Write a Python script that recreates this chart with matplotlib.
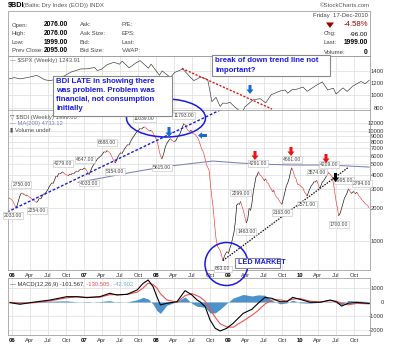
import matplotlib
matplotlib.use("Agg")
import matplotlib.pyplot as plt
import matplotlib.dates as mdates
from matplotlib.collections import LineCollection
from matplotlib.patches import Ellipse, Rectangle, Polygon
import numpy as np
import pandas as pd

# ---------------- data ----------------
bdi_dates = [
    "2005-12-09", "2005-12-16", "2005-12-23", "2005-12-30", "2006-01-06", "2006-01-13", "2006-01-20",
    "2006-01-27", "2006-02-03", "2006-02-10", "2006-02-17", "2006-02-24", "2006-03-03", "2006-03-10",
    "2006-03-17", "2006-03-24", "2006-04-07", "2006-04-14", "2006-04-21", "2006-04-28", "2006-05-05",
    "2006-05-12", "2006-05-19", "2006-05-26", "2006-06-02", "2006-06-09", "2006-06-16", "2006-06-23",
    "2006-06-30", "2006-07-07", "2006-07-14", "2006-07-21", "2006-07-28", "2006-08-04", "2006-08-11",
    "2006-08-18", "2006-08-25", "2006-09-01", "2006-09-08", "2006-09-15", "2006-09-22", "2006-09-29",
    "2006-10-06", "2006-10-13", "2006-10-20", "2006-10-27", "2006-11-03", "2006-11-10", "2006-11-17",
    "2006-11-24", "2006-12-01", "2006-12-08", "2006-12-15", "2006-12-22", "2007-01-05", "2007-01-12",
    "2007-01-19", "2007-01-26", "2007-02-02", "2007-02-09", "2007-02-16", "2007-02-23", "2007-03-02",
    "2007-03-09", "2007-03-16", "2007-03-23", "2007-03-30", "2007-04-06", "2007-04-13", "2007-04-20",
    "2007-04-27", "2007-05-04", "2007-05-11", "2007-05-18", "2007-05-25", "2007-06-01", "2007-06-08",
    "2007-06-15", "2007-06-22", "2007-06-29", "2007-07-06", "2007-07-13", "2007-07-20", "2007-07-27",
    "2007-08-03", "2007-08-10", "2007-08-17", "2007-08-24", "2007-08-31", "2007-09-07", "2007-09-14",
    "2007-09-21", "2007-09-28", "2007-10-05", "2007-10-12", "2007-10-19", "2007-10-26", "2007-11-02",
    "2007-11-09", "2007-11-16", "2007-11-23", "2007-11-30", "2007-12-07", "2007-12-14", "2007-12-21",
    "2008-01-04", "2008-01-11", "2008-01-18", "2008-01-25", "2008-01-30", "2008-02-08", "2008-02-15",
    "2008-02-22", "2008-02-29", "2008-03-07", "2008-03-14", "2008-03-21", "2008-03-28", "2008-04-04",
    "2008-04-11", "2008-04-18", "2008-04-25", "2008-05-02", "2008-05-09", "2008-05-16", "2008-05-20",
    "2008-05-30", "2008-06-06", "2008-06-13", "2008-06-20", "2008-06-27", "2008-07-04", "2008-07-11",
    "2008-07-18", "2008-07-25", "2008-08-01", "2008-08-08", "2008-08-15", "2008-08-22", "2008-08-29",
    "2008-09-05", "2008-09-12", "2008-09-19", "2008-09-26", "2008-10-03", "2008-10-10", "2008-10-17",
    "2008-10-24", "2008-10-31", "2008-11-07", "2008-11-14", "2008-11-21", "2008-11-28", "2008-12-05",
    "2008-12-12", "2008-12-19", "2008-12-26", "2009-01-02", "2009-01-09", "2009-01-16", "2009-01-23",
    "2009-01-30", "2009-02-06", "2009-02-13", "2009-02-20", "2009-02-27", "2009-03-04", "2009-03-11",
    "2009-03-18", "2009-03-25", "2009-04-03", "2009-04-10", "2009-04-17", "2009-04-24", "2009-05-01",
    "2009-05-08", "2009-05-15", "2009-05-22", "2009-05-29", "2009-06-03", "2009-06-12", "2009-06-19",
    "2009-06-26", "2009-07-03", "2009-07-10", "2009-07-17", "2009-07-24", "2009-07-31", "2009-08-07",
    "2009-08-14", "2009-08-21", "2009-08-28", "2009-09-04", "2009-09-11", "2009-09-18", "2009-09-30",
    "2009-10-09", "2009-10-16", "2009-10-23", "2009-10-30", "2009-11-06", "2009-11-13", "2009-11-19",
    "2009-11-27", "2009-12-04", "2009-12-11", "2009-12-18", "2009-12-31", "2010-01-08", "2010-01-15",
    "2010-01-22", "2010-01-29", "2010-02-05", "2010-02-12", "2010-02-19", "2010-02-26", "2010-03-05",
    "2010-03-12", "2010-03-19", "2010-03-26", "2010-04-02", "2010-04-09", "2010-04-16", "2010-04-23",
    "2010-04-30", "2010-05-07", "2010-05-14", "2010-05-20", "2010-05-26", "2010-06-04", "2010-06-11",
    "2010-06-18", "2010-06-25", "2010-07-02", "2010-07-09", "2010-07-15", "2010-07-23", "2010-07-30",
    "2010-08-06", "2010-08-13", "2010-08-20", "2010-08-27", "2010-09-03", "2010-09-10", "2010-09-17",
    "2010-09-24", "2010-10-01", "2010-10-08", "2010-10-15", "2010-10-22", "2010-10-29", "2010-11-05",
    "2010-11-12", "2010-11-19", "2010-11-26", "2010-12-03", "2010-12-10", "2010-12-17"]
bdi_close = [
    2420, 2480, 2440, 2380, 2290, 2150, 2033,
    2120, 2370, 2600, 2750, 2680, 2690, 2600,
    2630, 2560, 2470, 2400, 2350, 2300, 2254,
    2330, 2454, 2420, 2550, 2700, 2650, 2820,
    2920, 3100, 3250, 3400, 3350, 3600, 3900,
    3850, 4150, 4100, 4200, 4279, 4150, 4050,
    4000, 3950, 4080, 4030, 4170, 4120, 4250,
    4350, 4300, 4420, 4540, 4480, 4647, 4450,
    4250, 4033, 4300, 4650, 4900, 5120, 5350,
    5600, 5750, 5890, 6050, 6300, 6530, 6450,
    6688, 6550, 6430, 6100, 5700, 5400, 5154,
    5500, 5900, 6190, 6400, 6300, 6700, 7030,
    7300, 7600, 7500, 8060, 8500, 8900, 9280,
    9700, 10000, 10300, 10670, 10500, 10800, 11039,
    10800, 10500, 10300, 10100, 10200, 9940, 9300,
    8400, 7520, 6500, 5900, 5615, 6200, 7030,
    7600, 8000, 8350, 8600, 8300, 8100, 8060,
    8300, 8800, 9200, 9600, 10400, 11200, 11793,
    11400, 10500, 10200, 10000, 10300, 9600, 9500,
    9400, 9000, 8670, 8000, 7270, 6800, 6400,
    5690, 5000, 4700, 4440, 3240, 2500, 1990,
    1400, 1058, 900, 858, 820, 745, 663,
    720, 770, 800, 770, 858, 930, 1058,
    1200, 1500, 2130, 2200, 2150, 2299, 2100,
    1920, 1700, 1463, 1600, 1990, 1900, 2200,
    2817, 3300, 3860, 4000, 4291, 4000, 3900,
    3730, 3550, 3700, 3400, 3360, 3100, 3000,
    2817, 2900, 2600, 2500, 2450, 2300, 2163,
    2500, 2817, 3200, 3400, 3730, 4300, 4661,
    4300, 3860, 3700, 3300, 3240, 3100, 3050,
    2817, 2700, 2571, 2800, 3000, 3200, 3300,
    3480, 3450, 3574, 3300, 3030, 3200, 3450,
    3550, 3730, 3900, 4100, 4209, 4000, 3860,
    3400, 2817, 2300, 1990, 1700, 1800, 1990,
    2200, 2450, 2600, 2750, 2995, 2850, 2720,
    2800, 2817, 2700, 2794, 2650, 2540, 2450,
    2350, 2285, 2200, 2150, 2100, 1999]

# swing highs (+1) and lows (-1) that carry value tags, with a sideways nudge in points
swing_dates = ["2006-01-20", "2006-02-17", "2006-05-05", "2006-09-15", "2007-01-05", "2007-01-26",
               "2007-04-27", "2007-06-08", "2007-11-02", "2008-01-30", "2008-05-20", "2008-12-05",
               "2009-03-04", "2009-04-03", "2009-06-03", "2009-09-30", "2009-11-19", "2010-02-05",
               "2010-03-26", "2010-05-26", "2010-07-15", "2010-09-03", "2010-10-15"]
swing_kind = [-1, 1, -1, 1, 1, -1,
              1, -1, 1, -1, 1, -1,
              1, -1, 1, -1, 1, -1,
              1, 1, -1, 1, 1]
swing_dx = [-2, 0, 0, 0, 0, 0,
            0, 0, 0, 0, 0, 0,
            0, 0, 0, 0, 0, 0,
            0, 0, 0, -3, 4]

ma_dates = ["2006-12-01", "2007-03-20", "2007-09-15", "2008-02-10", "2008-08-01", "2008-10-15",
            "2009-03-01", "2009-08-01", "2009-11-20", "2010-06-01", "2010-12-17"]
ma200 = [3430, 3730, 4290, 4760, 5180, 5370, 5150, 5010, 4940, 4940, 4733]

spx_dates = ["2005-12-16", "2006-01-13", "2006-02-10", "2006-03-10", "2006-04-21", "2006-05-05",
             "2006-06-16", "2006-07-14", "2006-08-11", "2006-09-22", "2006-10-27", "2006-12-15",
             "2007-01-19", "2007-02-23", "2007-03-09", "2007-03-30", "2007-04-27", "2007-06-01",
             "2007-06-29", "2007-07-13", "2007-08-17", "2007-09-21", "2007-10-12", "2007-11-23",
             "2007-12-07", "2008-01-18", "2008-02-01", "2008-03-14", "2008-04-04", "2008-05-16",
             "2008-06-27", "2008-07-11", "2008-08-15", "2008-09-19", "2008-10-10", "2008-10-31",
             "2008-11-21", "2008-12-05", "2008-12-26", "2009-01-09", "2009-01-30", "2009-02-20",
             "2009-03-06", "2009-03-27", "2009-05-08", "2009-06-12", "2009-07-10", "2009-08-07",
             "2009-09-18", "2009-10-16", "2009-10-30", "2009-11-20", "2009-12-18", "2010-01-15",
             "2010-02-05", "2010-03-26", "2010-04-23", "2010-05-21", "2010-06-18", "2010-07-02",
             "2010-08-06", "2010-08-27", "2010-09-24", "2010-11-05", "2010-11-26", "2010-12-17"]
spx_close = [1267, 1287, 1267, 1282, 1311, 1325,
             1252, 1237, 1266, 1314, 1377, 1427,
             1430, 1451, 1402, 1421, 1494, 1536,
             1503, 1552, 1445, 1525, 1561, 1440,
             1504, 1325, 1395, 1288, 1370, 1425,
             1278, 1239, 1298, 1255, 899, 968,
             820, 876, 872, 890, 826, 770,
             683, 816, 930, 946, 879, 1010,
             1068, 1087, 1036, 1091, 1102, 1136,
             1066, 1167, 1217, 1087, 1117, 1022,
             1121, 1064, 1148, 1225, 1189, 1244]

macd_dates = ["2005-12-21", "2006-02-10", "2006-04-16", "2006-07-12", "2006-10-05", "2006-11-25",
              "2007-01-15", "2007-03-22", "2007-05-11", "2007-06-17", "2007-08-07", "2007-09-27",
              "2007-10-27", "2007-11-22", "2007-12-17", "2008-01-05", "2008-01-23", "2008-02-24",
              "2008-04-16", "2008-05-27", "2008-07-01", "2008-07-27", "2008-08-11", "2008-09-06",
              "2008-10-01", "2008-10-27", "2008-11-21", "2008-12-24", "2009-01-26", "2009-03-18",
              "2009-05-01", "2009-06-02", "2009-07-06", "2009-08-11", "2009-09-20", "2009-10-26",
              "2009-11-24", "2009-12-31", "2010-02-20", "2010-04-12", "2010-06-02", "2010-07-05",
              "2010-07-30", "2010-09-01", "2010-10-16", "2010-12-17"]
macd_line = [-50, -160, -20, 140, 380, 380,
             310, 380, 620, 500, 550, 860,
             1330, 1570, 1090, 380, -210, -90,
             20, 810, 500, 140, 20, -330,
             -1290, -1880, -2070, -1880, -1520, -810,
             -520, -90, 330, 260, 20, 20,
             330, 190, -20, -20, 140, 0,
             -290, -90, -30, -102]
signal_line = [-20, -80, -60, 80, 300, 370,
               340, 350, 520, 530, 540, 700,
               1000, 1350, 1250, 1000, 600, 150,
               -20, 450, 600, 450, 350, 50,
               -500, -1100, -1550, -1780, -1800, -1350,
               -950, -600, -150, 150, 150, 80,
               200, 250, 60, 0, 100, 60,
               -100, -200, -100, -131]

month_ticks = ["2006-01-01", "2006-04-01", "2006-07-01", "2006-10-01",
               "2007-01-01", "2007-04-01", "2007-07-01", "2007-10-01",
               "2008-01-01", "2008-04-01", "2008-07-01", "2008-10-01",
               "2009-01-01", "2009-04-01", "2009-07-01", "2009-10-01",
               "2010-01-01", "2010-04-01", "2010-07-01", "2010-10-01"]
month_labels = ["06", "Apr", "Jul", "Oct", "07", "Apr", "Jul", "Oct", "08", "Apr", "Jul", "Oct",
                "09", "Apr", "Jul", "Oct", "10", "Apr", "Jul", "Oct"]

bdi_ticks = [1000, 2000, 3000, 4000, 5000, 6000, 7000, 8000, 9000, 10000, 12000]
spx_ticks = [800, 1000, 1200, 1400]
macd_ticks = [-2000, -1000, 0, 1000]

# ---------------- layout helpers ----------------
W, H = 400, 345
fig = plt.figure(figsize=(W / 100, H / 100), dpi=100)
plt.rcParams["font.family"] = ["Liberation Sans", "DejaVu Sans"]

def rect(l, t, r, b):
    return [l / W, 1 - b / H, (r - l) / W, (b - t) / H]

def fx(x):
    return x / W

def fy(y):
    return 1 - y / H

def ftext(x, y, s, **kw):
    kw.setdefault("va", "center")
    return fig.text(fx(x), fy(y), s, **kw)

d = lambda s: mdates.date2num(pd.Timestamp(s))
xlim = (d("2005-12-11"), d("2010-12-21"))
GRID = "#dcdcdc"
EDGE = "#a0a0a0"
BLUE = "#1a1ae0"

def style_panel(a):
    a.set_xlim(*xlim)
    a.set_xticks([d(t) for t in month_ticks])
    a.grid(True, color=GRID, lw=0.5)
    a.set_axisbelow(True)
    for s in a.spines.values():
        s.set_color(EDGE)
        s.set_linewidth(0.6)
    a.yaxis.tick_right()
    a.tick_params(axis="both", length=0, labelsize=4.2, colors="#333333")
    a.tick_params(axis="y", pad=10)

def set_right_ticks(a, ticks, labels):
    a.set_yticks(ticks)
    a.set_yticklabels(labels)
    a.yaxis.set_minor_locator(matplotlib.ticker.NullLocator())
    for lab in a.get_yticklabels():
        lab.set_ha("right")

def set_date_labels(a, show):
    if show:
        a.set_xticklabels(month_labels)
        for lab, txt in zip(a.get_xticklabels(), month_labels):
            if txt.isdigit():
                lab.set_fontweight("bold")
                lab.set_color("#000000")
        a.tick_params(axis="x", pad=2.5)
    else:
        a.set_xticklabels([])

# ---------------- header ----------------
ftext(8, 5, "$BDI", fontsize=5.2, fontweight="bold")
ftext(23, 5, "(Baltic Dry Index (EOD)) INDX", fontsize=4.3, color="#555555")
ftext(370, 5.5, "©StockCharts.com", fontsize=4.3, color="#555555", ha="right")
fig.add_artist(Rectangle((fx(8), fy(56)), (370 - 8) / W, (56 - 11) / H, transform=fig.transFigure,
                         fill=False, ec=EDGE, lw=0.6))
rows_y = [25, 33.5, 42, 50.5]
for y, lab, val in zip(rows_y, ["Open:", "High:", "Low:", "Prev Close:"],
                       ["2076.00", "2076.00", "1999.00", "2095.00"]):
    ftext(12, y, lab, fontsize=4.3, color="#444444")
    ftext(44, y, val, fontsize=4.8, fontweight="bold")
for y, lab in zip(rows_y, ["Ask:", "Ask Size:", "Bid:", "Bid Size:"]):
    ftext(80, y, lab, fontsize=4.3, color="#444444")
for y, lab in zip(rows_y, ["P/E:", "EPS:", "Last:", "VWAP:"]):
    ftext(122, y, lab, fontsize=4.3, color="#444444")
ftext(368, 15.5, "Friday  17-Dec-2010", fontsize=4.3, color="#444444", ha="right")
fig.add_artist(Polygon([(fx(326), fy(22.5)), (fx(334), fy(22.5)), (fx(330), fy(28))],
                       closed=True, transform=fig.transFigure, fc="#a00000", ec="none"))
ftext(368, 25, "-4.58%", fontsize=5.6, color="#a00000", ha="right")
ftext(324, 34, "Chg:", fontsize=4.3, color="#444444")
ftext(368, 34, "-96.00", fontsize=4.6, ha="right")
ftext(323, 43, "Last:", fontsize=4.3, color="#444444")
ftext(368, 43, "1999.00", fontsize=4.8, fontweight="bold", ha="right")
ftext(324, 52, "Volume:", fontsize=4.3, color="#444444")
ftext(368, 52, "0", fontsize=4.8, fontweight="bold", ha="right")

# ---------------- SPX panel ----------------
ax_spx = fig.add_axes(rect(8, 56, 370, 110))
style_panel(ax_spx)
ax_spx.plot([d(t) for t in spx_dates], spx_close, color="#333333", lw=0.45)
ax_spx.set_ylim(764, 1636)
set_right_ticks(ax_spx, spx_ticks, [str(v) for v in spx_ticks])
set_date_labels(ax_spx, False)
ax_spx.text(0.006, 0.92, "— $SPX (Weekly) 1243.91", transform=ax_spx.transAxes, fontsize=4.2,
            color="#555555", va="center")
# broken down trend line on the SPX
ax_spx.plot([d("2008-05-11"), d("2009-08-11")], [1436, 780], color="#ee1111", lw=1.0,
            ls=(0, (1.5, 1.2)))

# ---------------- BDI panel ----------------
ax = fig.add_axes(rect(8, 110, 370, 270))
style_panel(ax)
ax.set_yscale("log")
ax.set_ylim(544, 15700)
set_right_ticks(ax, bdi_ticks, [str(v) for v in bdi_ticks])
set_date_labels(ax, True)

bx = np.array([d(t) for t in bdi_dates])
by = np.array(bdi_close, dtype=float)
segs = np.stack([np.column_stack([bx[:-1], by[:-1]]), np.column_stack([bx[1:], by[1:]])], axis=1)
cols = ["#000000" if b >= a else "#ee3333" for a, b in zip(by[:-1], by[1:])]
ax.add_collection(LineCollection(segs, colors=cols, linewidths=0.45))

ax.plot([d(t) for t in ma_dates], ma200, color="#7b80b8", lw=0.75)

lookup = dict(zip(bdi_dates, bdi_close))
for t, k, dx in zip(swing_dates, swing_kind, swing_dx):
    v = lookup[t]
    ax.annotate(f"{v:.2f}", (d(t), v), xytext=(dx, 4.2 * k), textcoords="offset points",
                ha="center", va="bottom" if k > 0 else "top", fontsize=3.6, color="#444444",
                bbox=dict(boxstyle="square,pad=0.18", fc="white", ec="#c0c0c0", lw=0.4))

ax.text(0.006, 0.955, "▽ $BDI (Weekly) 1999.00", transform=ax.transAxes, fontsize=4.2,
        color="#555555", va="center")
ax.text(0.006, 0.915, "— MA(200) 4733.12", transform=ax.transAxes, fontsize=4.2,
        color="#7b80b8", va="center")
ax.text(0.006, 0.877, "▮ Volume undef", transform=ax.transAxes, fontsize=4.2,
        color="#555555", va="center")

# trend lines
ax.plot([d("2005-12-07"), d("2008-12-01")], [1840, 16000], color=BLUE, lw=1.0,
        ls=(0, (2, 1.3)))
ax.plot([d("2008-12-05"), d("2010-08-31")], [663, 4670], color="#111111", lw=0.9,
        ls=(0, (1.2, 1.0)))

# ---------------- MACD panel ----------------
ax_m = fig.add_axes(rect(8, 278, 370, 335))
style_panel(ax_m)
mx = np.array([d(t) for t in macd_dates])
m = np.array(macd_line, dtype=float)
s = np.array(signal_line, dtype=float)
ax_m.fill_between(mx, 0, m - s, color="#2f7fc1", alpha=0.85, lw=0)
ax_m.plot(mx, s, color="#f05050", lw=0.8)
ax_m.plot(mx, m, color="#000000", lw=0.8)
ax_m.set_ylim(-2357, 1714)
set_right_ticks(ax_m, macd_ticks, [str(v) for v in macd_ticks])
set_date_labels(ax_m, True)
t1 = ax_m.text(0.006, 0.89, "— MACD(12,26,9) -101.567", transform=ax_m.transAxes, fontsize=4.2,
               color="#333333", va="center")
t2 = ax_m.annotate(", -130.505", xy=(1, 0.5), xycoords=t1, fontsize=4.2, color="#f05050",
                   va="center", ha="left")
ax_m.annotate(", -42.902", xy=(1, 0.5), xycoords=t2, fontsize=4.2, color="#6fa8dc",
              va="center", ha="left")

# ---------------- markup drawn over the panels ----------------
def add_poly(pts, color, z=20):
    fig.add_artist(Polygon([(fx(x), fy(y)) for x, y in pts], closed=True,
                           transform=fig.transFigure, fc=color, ec="none", zorder=z))

def down_arrow(cx, top, bottom, color, sw=3.0, hw=7.0, hl=4.5):
    add_poly([(cx - sw / 2, top), (cx + sw / 2, top), (cx + sw / 2, bottom - hl),
              (cx + hw / 2, bottom - hl), (cx, bottom), (cx - hw / 2, bottom - hl),
              (cx - sw / 2, bottom - hl)], color)

def left_arrow(tip, tail, cy, color, sw=3.0, hw=6.5, hl=4.0):
    add_poly([(tail, cy - sw / 2), (tail, cy + sw / 2), (tip + hl, cy + sw / 2),
              (tip + hl, cy + hw / 2), (tip, cy), (tip + hl, cy - hw / 2),
              (tip + hl, cy - sw / 2)], color)

def fig_ellipse(cx, cy, w, h, color, lw=1.1):
    fig.add_artist(Ellipse((fx(cx), fy(cy)), w / W, h / H, transform=fig.transFigure,
                           fill=False, ec=color, lw=lw, zorder=15))

def note_box(l, t, r, b, lines, line_y, size=5.6):
    fig.add_artist(Rectangle((fx(l), fy(b)), (r - l) / W, (b - t) / H, transform=fig.transFigure,
                             fc="white", ec="#888888", lw=0.8, zorder=25))
    for txt, y in zip(lines, line_y):
        fig.text(fx(l + 3), fy(y), txt, fontsize=size, fontweight="bold", color=BLUE,
                 va="center", zorder=26)

fig_ellipse(166, 118, 79, 38, BLUE)
fig_ellipse(226.5, 264, 43, 43, BLUE)
down_arrow(169, 127, 137, "#1a6ad0")
left_arrow(198, 207, 135.5, "#1a6ad0")
down_arrow(250, 85, 94, "#1a6ad0")
down_arrow(255, 151, 160, "#ee1111")
down_arrow(291, 147, 156, "#ee1111")
down_arrow(326, 154, 163, "#ee1111")
down_arrow(335.5, 173, 182, "#000000")

note_box(53, 76, 172, 116,
         ["BDI LATE in showing there", "was problem. Problem was",
          "financial, not consumption", "initially"], [81.5, 90.5, 99.5, 108.5])
note_box(212, 55, 330, 76, ["break of down trend line not", "important?"], [60.5, 70])
note_box(235, 258, 280, 268, ["LED MARKET"], [263], size=5.2)

fig.savefig("out.png", dpi=100)
